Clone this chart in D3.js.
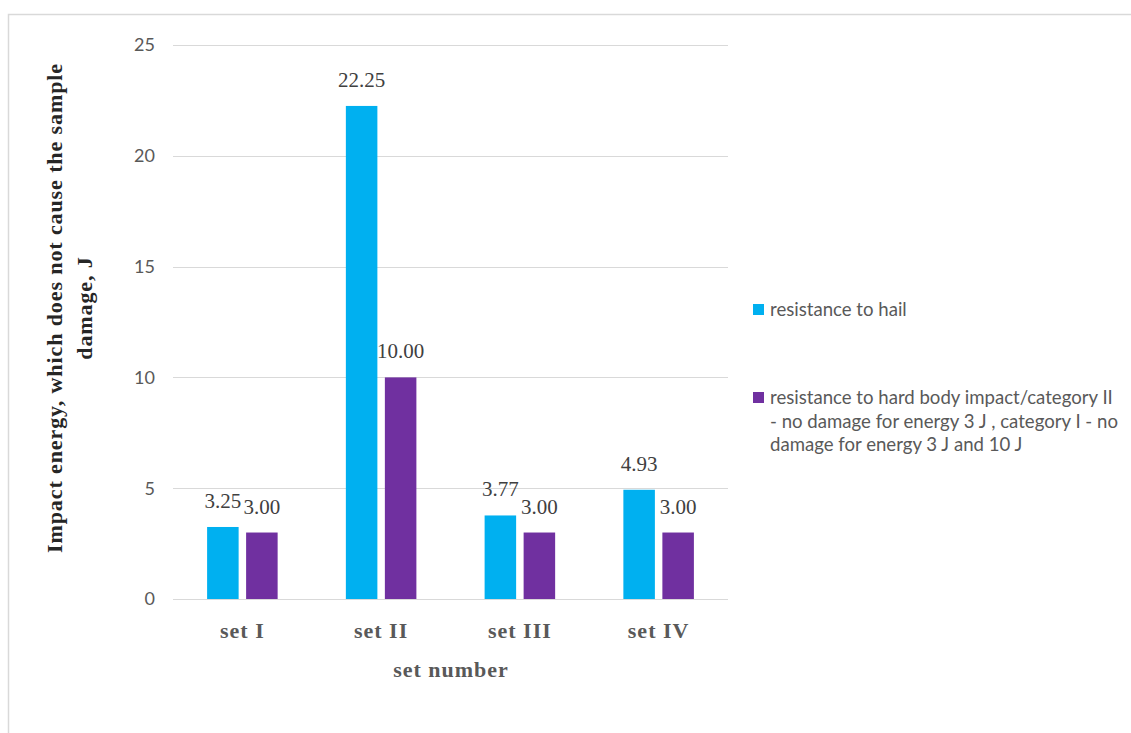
<!DOCTYPE html>
<html>
<head>
<meta charset="utf-8">
<script src="https://cdn.jsdelivr.net/npm/d3@7"></script>
<style>
  body { margin: 0; background: #fff; }
</style>
</head>
<body>
<div id="chart"></div>
<script>
// chart data
var categories = ["set I", "set II", "set III", "set IV"];
var seriesNames = ["resistance to hail", "resistance to hard body impact"];
var hailValues = [3.25, 22.25, 3.77, 4.93];
var hardBodyValues = [3.0, 10.0, 3.0, 3.0];
var yTicks = [0, 5, 10, 15, 20, 25];
var legendLines = [
  ["resistance to hail"],
  ["resistance to hard body impact/category II",
   "- no damage for energy 3 J , category I - no",
   "damage for energy 3 J and 10 J"]
];
var colors = ["#00b0f0", "#7030a0"];

var width = 1131, height = 733;

var svg = d3.select("#chart")
  .append("svg")
  .attr("width", width)
  .attr("height", height);

svg.append("rect").attr("width", width).attr("height", height).attr("fill", "#fff");

// outer frame (cropped at right and bottom)
svg.append("path")
  .attr("d", "M8.5," + height + "V14.5H" + width)
  .attr("fill", "none")
  .attr("stroke", "#d9d9d9")
  .attr("stroke-width", 1.5);

// scales
var x0 = d3.scaleBand()
  .domain(categories)
  .range([173, 728])
  .paddingInner(0.4917)
  .paddingOuter(0.2458);

var x1 = d3.scaleBand()
  .domain(seriesNames)
  .range([0, x0.bandwidth()])
  .paddingInner(0.192);

var y = d3.scaleLinear().domain([0, 25]).range([599, 45]);

// gridlines
svg.append("g")
  .selectAll("line")
  .data(yTicks)
  .join("line")
  .attr("x1", 173)
  .attr("x2", 728)
  .attr("y1", d => Math.round(y(d)) + 0.5)
  .attr("y2", d => Math.round(y(d)) + 0.5)
  .attr("stroke", "#d9d9d9")
  .attr("stroke-width", 1);

// y tick labels
svg.append("g")
  .selectAll("text")
  .data(yTicks)
  .join("text")
  .attr("x", 155)
  .attr("y", d => y(d))
  .attr("dy", "0.35em")
  .attr("text-anchor", "end")
  .style("font-family", "Lato, 'Open Sans', sans-serif")
  .style("font-size", "18px")
  .style("fill", "#595959")
  .text(d => d);

// bars
var rows = categories.map((c, i) => ({
  cat: c,
  vals: [
    { s: seriesNames[0], v: hailValues[i], k: 0 },
    { s: seriesNames[1], v: hardBodyValues[i], k: 1 }
  ]
}));

var groups = svg.append("g")
  .selectAll("g")
  .data(rows)
  .join("g")
  .attr("transform", d => "translate(" + x0(d.cat) + ",0)");

groups.selectAll("rect")
  .data(d => d.vals)
  .join("rect")
  .attr("x", d => x1(d.s))
  .attr("y", d => y(d.v))
  .attr("width", x1.bandwidth())
  .attr("height", d => y(0) - y(d.v))
  .attr("fill", d => colors[d.k]);

// value labels
groups.selectAll("text")
  .data(d => d.vals)
  .join("text")
  .attr("x", d => x1(d.s) + x1.bandwidth() / 2)
  .attr("y", d => y(d.v) - 19)
  .attr("text-anchor", "middle")
  .style("font-family", "'Liberation Serif', serif")
  .style("font-size", "21px")
  .style("fill", "#404040")
  .text(d => d.v.toFixed(2));

// x category labels
svg.append("g")
  .selectAll("text")
  .data(categories)
  .join("text")
  .attr("x", d => x0(d) + x0.bandwidth() / 2)
  .attr("y", 638)
  .attr("text-anchor", "middle")
  .style("font-family", "'Liberation Serif', serif")
  .style("font-weight", "bold")
  .style("font-size", "22px")
  .style("letter-spacing", "1px")
  .style("fill", "#595959")
  .text(d => d);

// x axis title
svg.append("text")
  .attr("x", 451)
  .attr("y", 677)
  .attr("text-anchor", "middle")
  .style("font-family", "'Liberation Serif', serif")
  .style("font-weight", "bold")
  .style("font-size", "22px")
  .style("letter-spacing", "1px")
  .style("fill", "#595959")
  .text("set number");

// y axis title (two lines)
var yTitle = ["Impact energy, which does not cause the sample", "damage, J"];
svg.append("g")
  .selectAll("text")
  .data(yTitle)
  .join("text")
  .attr("transform", (d, i) => "translate(" + (62 + i * 30) + ",308) rotate(-90)")
  .attr("text-anchor", "middle")
  .style("font-family", "'Liberation Serif', serif")
  .style("font-weight", "bold")
  .style("font-size", "22px")
  .style("letter-spacing", "0.9px")
  .style("fill", "#262626")
  .text(d => d);

// legend
var legendTop = [316, 404];
legendLines.forEach((lines, i) => {
  svg.append("rect")
    .attr("x", 753)
    .attr("y", legendTop[i] - 12)
    .attr("width", 11)
    .attr("height", 11)
    .attr("fill", colors[i]);
  svg.append("g")
    .selectAll("text")
    .data(lines)
    .join("text")
    .attr("x", 770)
    .attr("y", (d, j) => legendTop[i] + j * 23.5)
    .style("font-family", "Lato, 'Open Sans', sans-serif")
    .style("font-size", "18.6px")
    .style("fill", "#595959")
    .text(d => d);
});
</script>
</body>
</html>
